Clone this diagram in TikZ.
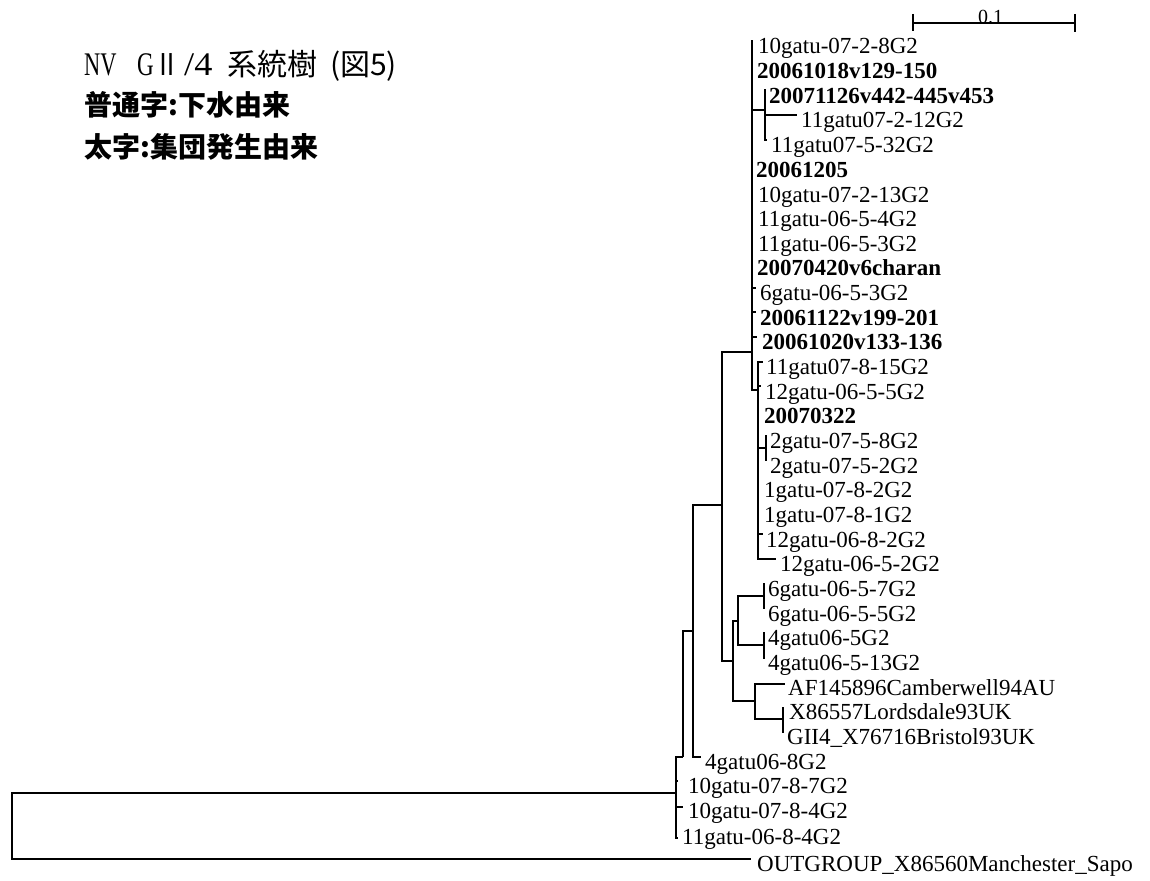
\documentclass[tikz,border=0pt]{standalone}
\usepackage{fontspec}
\usepackage{graphicx}
\setmainfont{Liberation Serif}
\newfontfamily\jp{Noto Sans CJK JP}
\tikzset{
 lab/.style={anchor=base west, inner sep=0pt, font=\fontsize{23}{23}\selectfont},
 blab/.style={anchor=base west, inner sep=0pt, font=\fontsize{23}{23}\selectfont\bfseries},
 br/.style={line width=2pt},
 ttl/.style={anchor=base west, inner sep=0pt},
}
\begin{document}
\begin{tikzpicture}[x=1pt,y=-1pt]
\useasboundingbox (0,0) rectangle (1150,880);
\fill[white] (0,0) rectangle (1150,880);

% ---- titles
\node[ttl, font=\fontsize{33}{33}\selectfont, xscale=0.68] (tnv) at (84,76) {NV};
\node[ttl, font=\fontsize{33}{33}\selectfont, xscale=0.7] (tg) at (137,76) {G};
\node[ttl, font=\jp\fontsize{30}{30}\selectfont, xscale=0.85] (tii) at (154,76) {Ⅱ};
\node[ttl, font=\fontsize{33}{33}\selectfont, xscale=1.1] (tfour) at (184,76) {/4};
\node[ttl, font=\jp\fontsize{30}{30}\selectfont] (tkei) at (227,76) {系統樹};
\node[ttl, font=\jp\fontsize{30}{30}\selectfont] (tzu) at (330,76) {(図5)};
\node[ttl, font=\jp\bfseries\fontsize{28}{28}\selectfont] (tfu) at (84,115) {普通字:下水由来};
\node[ttl, font=\jp\bfseries\fontsize{28}{28}\selectfont] (tfuto) at (84,157) {太字:集団発生由来};

% ---- scale bar
\coordinate (s1) at (913,23);
\coordinate (s2) at (1075,23);
\draw[line width=1.8pt] (s1) -- (s2);
\draw[line width=1.8pt] (913,14) -- (913,31);
\draw[line width=1.8pt] (1075,14) -- (1075,32);
\node[anchor=base west, inner sep=0pt, font=\fontsize{20}{20}\selectfont] (sl) at (978,24) {0.1};

% ---- internal nodes
\coordinate (root) at (12,826);
\coordinate (M) at (676,793);
\coordinate (L) at (683,757);
\coordinate (K) at (693,630.5);
\coordinate (B) at (722,505);
\coordinate (C) at (752,352);
\coordinate (H) at (765,110);
\coordinate (I) at (758,390);
\coordinate (J) at (766,448);
\coordinate (D) at (733,660.6);
\coordinate (G) at (738,620.5);
\coordinate (P6) at (764,595.9);
\coordinate (P4) at (764,645.2);
\coordinate (E) at (755,700.7);
\coordinate (F) at (783,719.2);

% ---- leaf tips
\coordinate (t1) at (753,41.0);
\coordinate (t2) at (753,65.7);
\coordinate (t3) at (766,90.3);
\coordinate (t4) at (797,115.0);
\coordinate (t5) at (767,139.6);
\coordinate (t6) at (753,164.3);
\coordinate (t7) at (753,189.0);
\coordinate (t8) at (753,213.6);
\coordinate (t9) at (753,238.3);
\coordinate (t10) at (753,262.9);
\coordinate (t11) at (756,287.6);
\coordinate (t12) at (756,312.3);
\coordinate (t13) at (757,336.9);
\coordinate (t14) at (763,361.6);
\coordinate (t15) at (761,386.2);
\coordinate (t16) at (759,410.9);
\coordinate (t17) at (767,435.6);
\coordinate (t18) at (767,460.2);
\coordinate (t19) at (759,484.9);
\coordinate (t20) at (759,509.6);
\coordinate (t21) at (763,534.2);
\coordinate (t22) at (776,558.9);
\coordinate (t23) at (765,583.5);
\coordinate (t24) at (765,608.2);
\coordinate (t25) at (765,632.8);
\coordinate (t26) at (765,657.5);
\coordinate (t27) at (785,684.0);
\coordinate (t28) at (784,708.0);
\coordinate (t29) at (784,732.0);
\coordinate (t30) at (701,757.0);
\coordinate (t31) at (678,780.8);
\coordinate (t32) at (683,807.0);
\coordinate (t33) at (678,838.0);
\coordinate (t34) at (751,859.0);

% ---- labels
\node[lab]  (n1)  at (758,54.0)  {10gatu-07-2-8G2};
\node[blab] (n2)  at (757,78.7)  {20061018v129-150};
\node[blab] (n3)  at (769,103.3) {20071126v442-445v453};
\node[lab]  (n4)  at (801,128.0) {11gatu07-2-12G2};
\node[lab]  (n5)  at (771,152.6) {11gatu07-5-32G2};
\node[blab] (n6)  at (756,177.3) {20061205};
\node[lab]  (n7)  at (758,202.0) {10gatu-07-2-13G2};
\node[lab]  (n8)  at (758,226.6) {11gatu-06-5-4G2};
\node[lab]  (n9)  at (758,251.3) {11gatu-06-5-3G2};
\node[blab] (n10) at (757,275.9) {20070420v6charan};
\node[lab]  (n11) at (760,300.6) {6gatu-06-5-3G2};
\node[blab] (n12) at (760,325.3) {20061122v199-201};
\node[blab] (n13) at (762,349.9) {20061020v133-136};
\node[lab]  (n14) at (766,374.6) {11gatu07-8-15G2};
\node[lab]  (n15) at (765,399.2) {12gatu-06-5-5G2};
\node[blab] (n16) at (764,423.9) {20070322};
\node[lab]  (n17) at (770,448.6) {2gatu-07-5-8G2};
\node[lab]  (n18) at (770,473.2) {2gatu-07-5-2G2};
\node[lab]  (n19) at (764,497.9) {1gatu-07-8-2G2};
\node[lab]  (n20) at (764,522.6) {1gatu-07-8-1G2};
\node[lab]  (n21) at (766,547.2) {12gatu-06-8-2G2};
\node[lab]  (n22) at (780,571.9) {12gatu-06-5-2G2};
\node[lab]  (n23) at (768,596.5) {6gatu-06-5-7G2};
\node[lab]  (n24) at (768,621.2) {6gatu-06-5-5G2};
\node[lab]  (n25) at (768,645.8) {4gatu06-5G2};
\node[lab]  (n26) at (768,670.5) {4gatu06-5-13G2};
\node[lab]  (n27) at (788,695.2) {AF145896Camberwell94AU};
\node[lab]  (n28) at (789,719.8) {X86557Lordsdale93UK};
\node[lab]  (n29) at (787,744.5) {GII4\_X76716Bristol93UK};
\node[lab]  (n30) at (705,769.1) {4gatu06-8G2};
\node[lab]  (n31) at (688,793.8) {10gatu-07-8-7G2};
\node[lab]  (n32) at (688,818.5) {10gatu-07-8-4G2};
\node[lab]  (n33) at (682,844.0) {11gatu-06-8-4G2};
\node[lab]  (n34) at (757,871.0) {OUTGROUP\_X86560Manchester\_Sapo};

% ---- branches
\draw[br] (root) |- (M);
\draw[br] (root) |- (t34);
\draw[br] (M) |- (L);
\draw[br] (M) |- (t31);
\draw[br] (M) |- (t32);
\draw[br] (M) |- (t33);
\draw[br] (L) |- (K);
\draw[br] (K) |- (B);
\draw[br] (K) |- (t30);
\draw[br] (B) |- (C);
\draw[br] (B) |- (D);
\draw[br] (C) |- (t1);
\draw[br] (C) |- (t2);
\draw[br] (C) |- (H);
\draw[br] (H) |- (t3);
\draw[br] (H) |- (t4);
\draw[br] (H) |- (t5);
\draw[br] (C) |- (t6);
\draw[br] (C) |- (t7);
\draw[br] (C) |- (t8);
\draw[br] (C) |- (t9);
\draw[br] (C) |- (t10);
\draw[br] (C) |- (t11);
\draw[br] (C) |- (t12);
\draw[br] (C) |- (t13);
\draw[br] (C) |- (I);
\draw[br] (I) |- (t14);
\draw[br] (I) |- (t15);
\draw[br] (I) |- (t16);
\draw[br] (I) |- (J);
\draw[br] (J) |- (t17);
\draw[br] (J) |- (t18);
\draw[br] (I) |- (t19);
\draw[br] (I) |- (t20);
\draw[br] (I) |- (t21);
\draw[br] (I) |- (t22);
\draw[br] (D) |- (G);
\draw[br] (D) |- (E);
\draw[br] (G) |- (P6);
\draw[br] (G) |- (P4);
\draw[br] (P6) |- (t23);
\draw[br] (P6) |- (t24);
\draw[br] (P4) |- (t25);
\draw[br] (P4) |- (t26);
\draw[br] (E) |- (t27);
\draw[br] (E) |- (F);
\draw[br] (F) |- (t28);
\draw[br] (F) |- (t29);
\end{tikzpicture}
\end{document}
